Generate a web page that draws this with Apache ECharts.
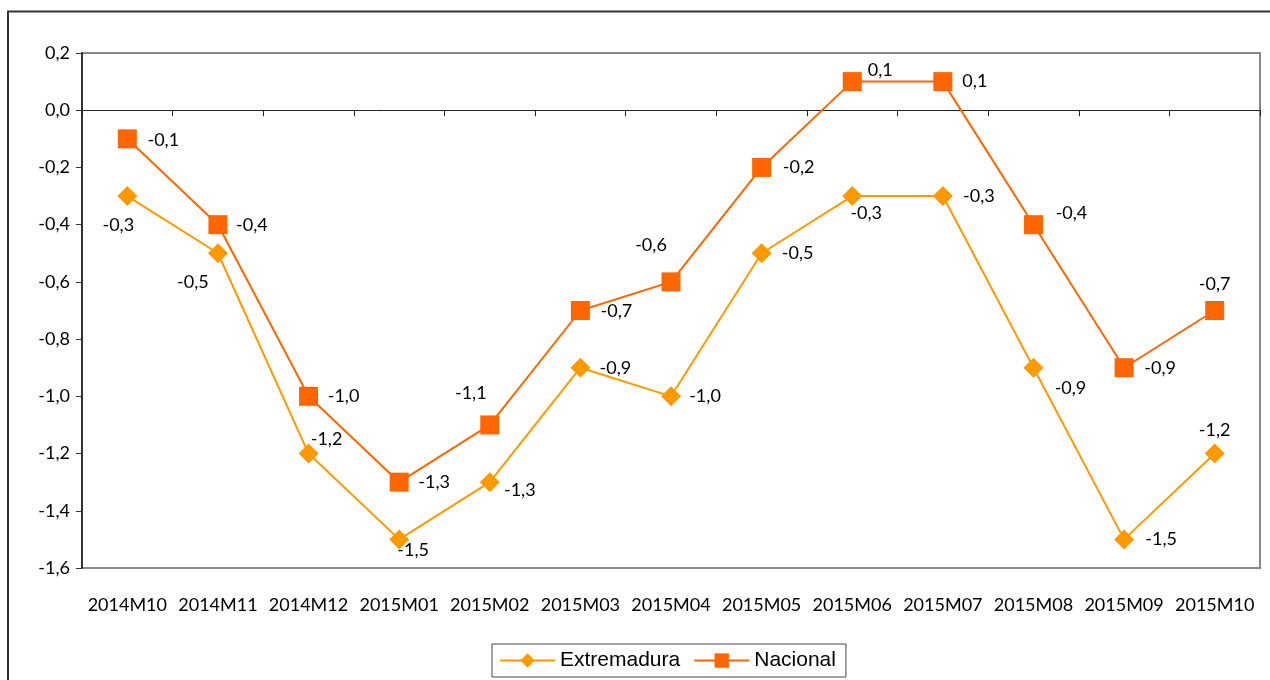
<!DOCTYPE html>
<html>
<head>
<meta charset="utf-8">
<script src="https://cdn.jsdelivr.net/npm/echarts@6/dist/echarts.min.js"></script>
<style>
  html, body { margin: 0; padding: 0; background: #fff; }
  #chart { width: 1270px; height: 680px; }
</style>
</head>
<body>
<div id="chart"></div>
<script>
  // datos
  const months = ['2014M10', '2014M11', '2014M12', '2015M01', '2015M02', '2015M03', '2015M04',
                  '2015M05', '2015M06', '2015M07', '2015M08', '2015M09', '2015M10'];
  const extremadura = [-0.3, -0.5, -1.2, -1.5, -1.3, -0.9, -1.0, -0.5, -0.3, -0.3, -0.9, -1.5, -1.2];
  const nacional = [-0.1, -0.4, -1.0, -1.3, -1.1, -0.7, -0.6, -0.2, 0.1, 0.1, -0.4, -0.9, -0.7];
  const yTicks = { min: -1.6, max: 0.2, step: 0.2 };

  // desplazamiento de las etiquetas respecto al marcador
  const offExt = [[-9, 29], [-25, 29], [18, -14], [14, 11], [30, 8], [35, 0], [34, 0],
                  [36, 0], [14, 17], [36, 0], [37, 20], [37, 0], [0, -23]];
  const offNac = [[36, 1], [34, 1], [35, 0], [35, 0], [-19, -32], [36, 1], [-20, -37],
                  [37, 0], [28, -11], [32, 0], [38, -11], [36, 0], [0, -26]];

  const fmt = v => v.toFixed(1).replace('.', ',');
  const calib = 'Lato, "Open Sans", sans-serif';

  function withLabels(values, offsets) {
    return values.map((v, i) => ({ value: v, label: { offset: offsets[i] } }));
  }

  const chart = echarts.init(document.getElementById('chart'));
  chart.setOption({
    animation: false,
    graphic: [{
      type: 'rect',
      shape: { x: 8, y: 11.5, width: 1300, height: 700 },
      style: { fill: 'none', stroke: '#333', lineWidth: 2 },
      silent: true
    }],
    grid: {
      left: 82, top: 53, right: 10, bottom: 112,
      show: true, borderColor: '#888', borderWidth: 2
    },
    legend: {
      left: 492, top: 644,
      padding: [6, 10, 6, 7],
      borderColor: '#444', borderWidth: 1,
      itemWidth: 55, itemHeight: 18, itemGap: 13,
      textStyle: { fontFamily: '"Liberation Sans", Arial, sans-serif', fontSize: 21, color: '#000' },
      data: ['Extremadura', 'Nacional']
    },
    xAxis: [{
      type: 'category',
      data: months,
      position: 'bottom',
      axisLine: { show: false, onZero: false },
      axisTick: { show: false },
      axisLabel: { interval: 0, margin: 28, fontFamily: calib, fontSize: 18, color: '#000' }
    }, {
      type: 'category',
      data: months,
      position: 'top',
      axisLine: { show: true, onZero: true, lineStyle: { color: '#222', width: 1 } },
      axisTick: { show: true, inside: true, length: 6, lineStyle: { color: '#222' } },
      axisLabel: { show: false }
    }],
    yAxis: {
      type: 'value',
      min: yTicks.min, max: yTicks.max, interval: yTicks.step,
      axisLine: { show: true, lineStyle: { color: '#333', width: 2 } },
      axisTick: { show: true, length: 6, lineStyle: { color: '#333' } },
      splitLine: { show: false },
      axisLabel: { formatter: fmt, margin: 12, fontFamily: calib, fontSize: 18, color: '#000' }
    },
    series: [{
      name: 'Extremadura',
      type: 'line',
      data: withLabels(extremadura, offExt),
      color: '#FF9900',
      symbol: 'diamond', symbolSize: 20,
      lineStyle: { width: 2 },
      label: {
        show: true, position: 'inside', formatter: p => fmt(p.value),
        fontFamily: calib, fontSize: 18, color: '#000'
      }
    }, {
      name: 'Nacional',
      type: 'line',
      data: withLabels(nacional, offNac),
      color: '#FF6600',
      symbol: 'rect', symbolSize: 19,
      lineStyle: { width: 2 },
      label: {
        show: true, position: 'inside', formatter: p => fmt(p.value),
        fontFamily: calib, fontSize: 18, color: '#000'
      }
    }]
  });
</script>
</body>
</html>
